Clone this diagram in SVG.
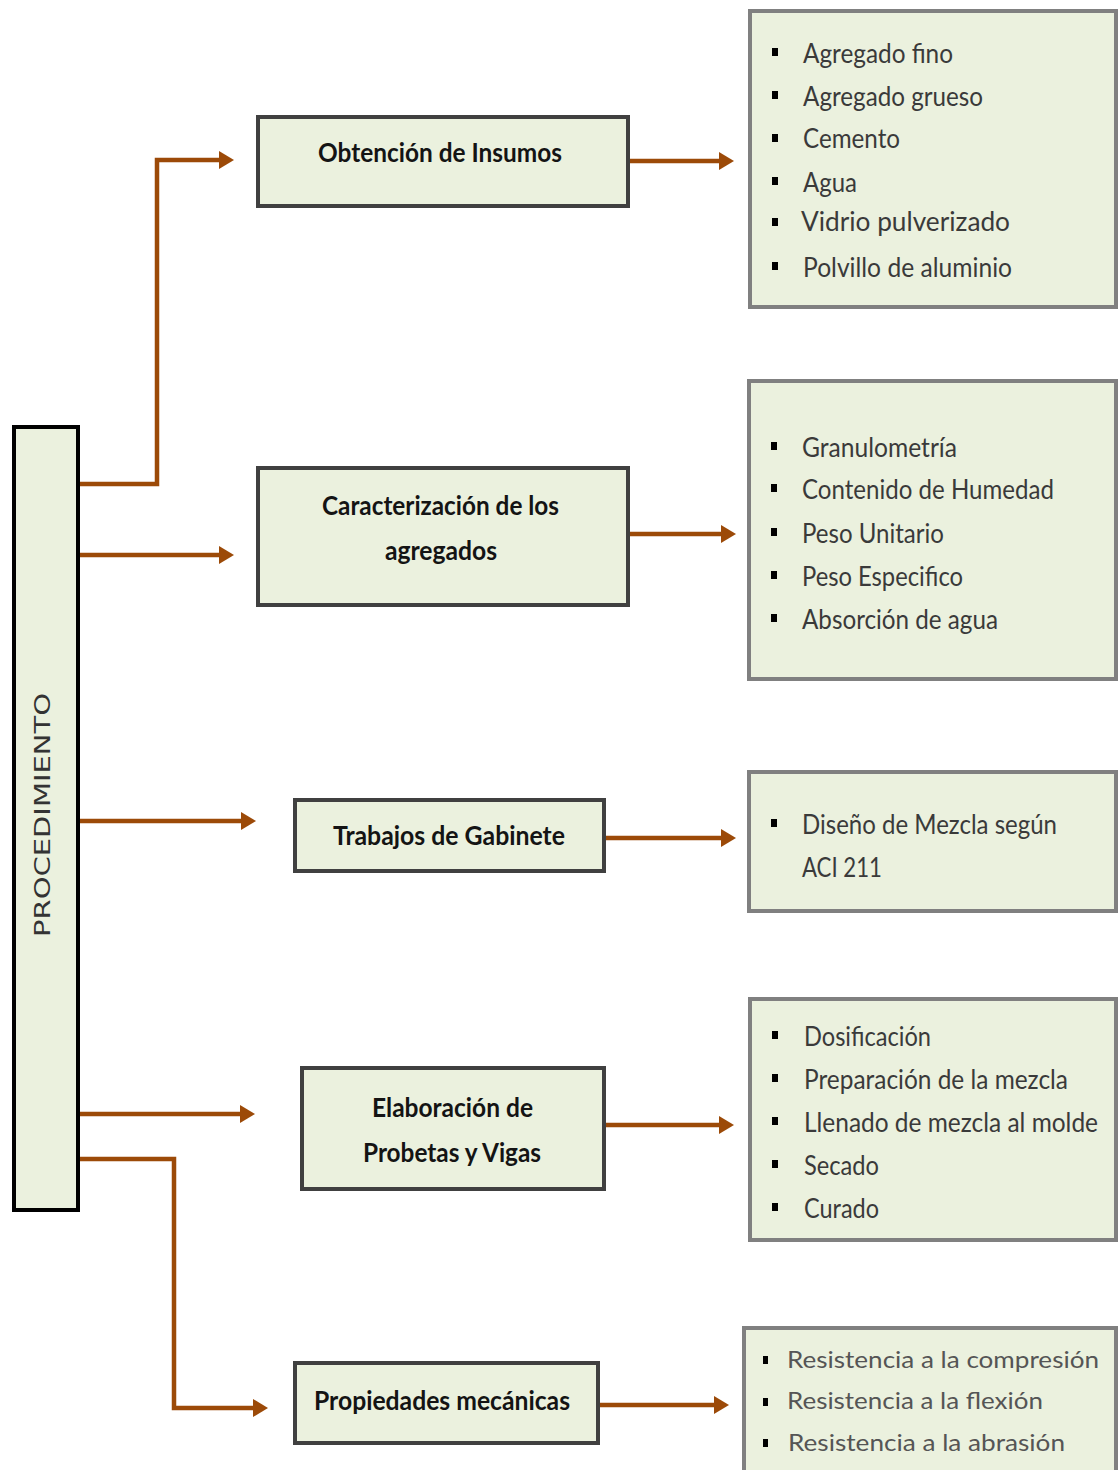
<svg xmlns="http://www.w3.org/2000/svg" width="1118" height="1470" viewBox="0 0 1118 1470">
<style>
.main{fill:#EBF1DE;stroke:#000;stroke-width:4}
.step{fill:#EBF1DE;stroke:#404040;stroke-width:4}
.list{fill:#EBF1DE;stroke:#808080;stroke-width:4}
.title{font-family:Lato,"Open Sans",sans-serif;font-weight:bold;font-size:26px;fill:#141414}
.item{font-family:Lato,"Open Sans",sans-serif;font-size:26px;fill:#3a3a3a}
.item2{font-family:Lato,"Open Sans",sans-serif;font-size:24px;fill:#555}
.vert{font-family:"DejaVu Sans",sans-serif;font-size:22px;fill:#333}
.conn{fill:none;stroke:#9C4A08;stroke-width:4.5}
.b{fill:#000}
</style>
<defs>
<marker id="ah" markerUnits="userSpaceOnUse" markerWidth="15" markerHeight="18" refX="0" refY="9" orient="auto">
<path d="M0,0 L15,9 L0,18 z" fill="#9C4A08"/>
</marker>
</defs>
<rect width="1118" height="1470" fill="#fff"/>
<g id="connectors">
<path class="conn" marker-end="url(#ah)" d="M80,484 H157 V160 H219"/>
<path class="conn" marker-end="url(#ah)" d="M80,555 H219"/>
<path class="conn" marker-end="url(#ah)" d="M80,821 H241"/>
<path class="conn" marker-end="url(#ah)" d="M80,1114 H240"/>
<path class="conn" marker-end="url(#ah)" d="M80,1159 H174 V1408 H253"/>
<path class="conn" marker-end="url(#ah)" d="M630,161 H719"/>
<path class="conn" marker-end="url(#ah)" d="M630,534 H721"/>
<path class="conn" marker-end="url(#ah)" d="M606,838 H721"/>
<path class="conn" marker-end="url(#ah)" d="M606,1125 H719"/>
<path class="conn" marker-end="url(#ah)" d="M600,1405 H714"/>
</g>
<g id="procedimiento">
<rect class="main" x="14" y="427" width="64" height="783"/>
<text class="vert" transform="translate(50,937) rotate(-90)" textLength="244" lengthAdjust="spacingAndGlyphs">PROCEDIMIENTO</text>
</g>
<g id="obtencion">
<rect class="step" x="258" y="117" width="370" height="89"/>
<text class="title" x="318" y="162" textLength="244" lengthAdjust="spacingAndGlyphs">Obtención de Insumos</text>
</g>
<g id="caracterizacion">
<rect class="step" x="258" y="468" width="370" height="137"/>
<text class="title" x="322" y="515" textLength="237" lengthAdjust="spacingAndGlyphs">Caracterización de los</text>
<text class="title" x="385" y="560" textLength="112" lengthAdjust="spacingAndGlyphs">agregados</text>
</g>
<g id="gabinete">
<rect class="step" x="295" y="800" width="309" height="71"/>
<text class="title" x="333" y="845" textLength="232" lengthAdjust="spacingAndGlyphs">Trabajos de Gabinete</text>
</g>
<g id="elaboracion">
<rect class="step" x="302" y="1068" width="302" height="121"/>
<text class="title" x="372" y="1117" textLength="161" lengthAdjust="spacingAndGlyphs">Elaboración de</text>
<text class="title" x="363" y="1162" textLength="178" lengthAdjust="spacingAndGlyphs">Probetas y Vigas</text>
</g>
<g id="propiedades">
<rect class="step" x="295" y="1363" width="303" height="80"/>
<text class="title" x="314" y="1410" textLength="256" lengthAdjust="spacingAndGlyphs">Propiedades mecánicas</text>
</g>
<g id="insumos-list">
<rect class="list" x="750" y="11" width="366" height="296"/>
<rect class="b" x="772" y="48" width="6" height="8"/>
<rect class="b" x="772" y="91" width="6" height="8"/>
<rect class="b" x="772" y="134" width="6" height="8"/>
<rect class="b" x="772" y="177" width="6" height="8"/>
<rect class="b" x="772" y="218" width="6" height="8"/>
<rect class="b" x="772" y="262" width="6" height="8"/>
<text class="item" x="803" y="63" textLength="150" lengthAdjust="spacingAndGlyphs">Agregado fino</text>
<text class="item" x="803" y="106" textLength="180" lengthAdjust="spacingAndGlyphs">Agregado grueso</text>
<text class="item" x="803" y="148" textLength="97" lengthAdjust="spacingAndGlyphs">Cemento</text>
<text class="item" x="803" y="192" textLength="54" lengthAdjust="spacingAndGlyphs">Agua</text>
<text class="item" x="801" y="231" textLength="209" lengthAdjust="spacingAndGlyphs">Vidrio pulverizado</text>
<text class="item" x="803" y="277" textLength="209" lengthAdjust="spacingAndGlyphs">Polvillo de aluminio</text>
</g>
<g id="caracterizacion-list">
<rect class="list" x="749" y="381" width="367" height="298"/>
<rect class="b" x="771" y="442" width="6" height="8"/>
<rect class="b" x="771" y="484" width="6" height="8"/>
<rect class="b" x="771" y="528" width="6" height="8"/>
<rect class="b" x="771" y="571" width="6" height="8"/>
<rect class="b" x="771" y="614" width="6" height="8"/>
<text class="item" x="802" y="457" textLength="155" lengthAdjust="spacingAndGlyphs">Granulometría</text>
<text class="item" x="802" y="499" textLength="252" lengthAdjust="spacingAndGlyphs">Contenido de Humedad</text>
<text class="item" x="802" y="543" textLength="142" lengthAdjust="spacingAndGlyphs">Peso Unitario</text>
<text class="item" x="802" y="586" textLength="161" lengthAdjust="spacingAndGlyphs">Peso Especifico</text>
<text class="item" x="802" y="629" textLength="196" lengthAdjust="spacingAndGlyphs">Absorción de agua</text>
</g>
<g id="gabinete-list">
<rect class="list" x="749" y="772" width="367" height="139"/>
<rect class="b" x="771" y="819" width="6" height="8"/>
<text class="item" x="802" y="834" textLength="255" lengthAdjust="spacingAndGlyphs">Diseño de Mezcla según</text>
<text class="item" x="802" y="877" textLength="80" lengthAdjust="spacingAndGlyphs">ACI 211</text>
</g>
<g id="elaboracion-list">
<rect class="list" x="750" y="999" width="366" height="241"/>
<rect class="b" x="772" y="1031" width="6" height="8"/>
<rect class="b" x="772" y="1074" width="6" height="8"/>
<rect class="b" x="772" y="1117" width="6" height="8"/>
<rect class="b" x="772" y="1160" width="6" height="8"/>
<rect class="b" x="772" y="1203" width="6" height="8"/>
<text class="item" x="804" y="1046" textLength="127" lengthAdjust="spacingAndGlyphs">Dosificación</text>
<text class="item" x="804" y="1089" textLength="264" lengthAdjust="spacingAndGlyphs">Preparación de la mezcla</text>
<text class="item" x="804" y="1132" textLength="294" lengthAdjust="spacingAndGlyphs">Llenado de mezcla al molde</text>
<text class="item" x="804" y="1175" textLength="75" lengthAdjust="spacingAndGlyphs">Secado</text>
<text class="item" x="804" y="1218" textLength="75" lengthAdjust="spacingAndGlyphs">Curado</text>
</g>
<g id="propiedades-list">
<rect class="list" x="744" y="1328" width="372" height="160"/>
<rect class="b" x="763" y="1356" width="5" height="8"/>
<rect class="b" x="763" y="1398" width="5" height="8"/>
<rect class="b" x="763" y="1439" width="5" height="8"/>
<text class="item2" x="787" y="1368" textLength="312" lengthAdjust="spacingAndGlyphs">Resistencia a la compresión</text>
<text class="item2" x="787" y="1409" textLength="256" lengthAdjust="spacingAndGlyphs">Resistencia a la flexión</text>
<text class="item2" x="788" y="1451" textLength="277" lengthAdjust="spacingAndGlyphs">Resistencia a la abrasión</text>
</g>
</svg>
